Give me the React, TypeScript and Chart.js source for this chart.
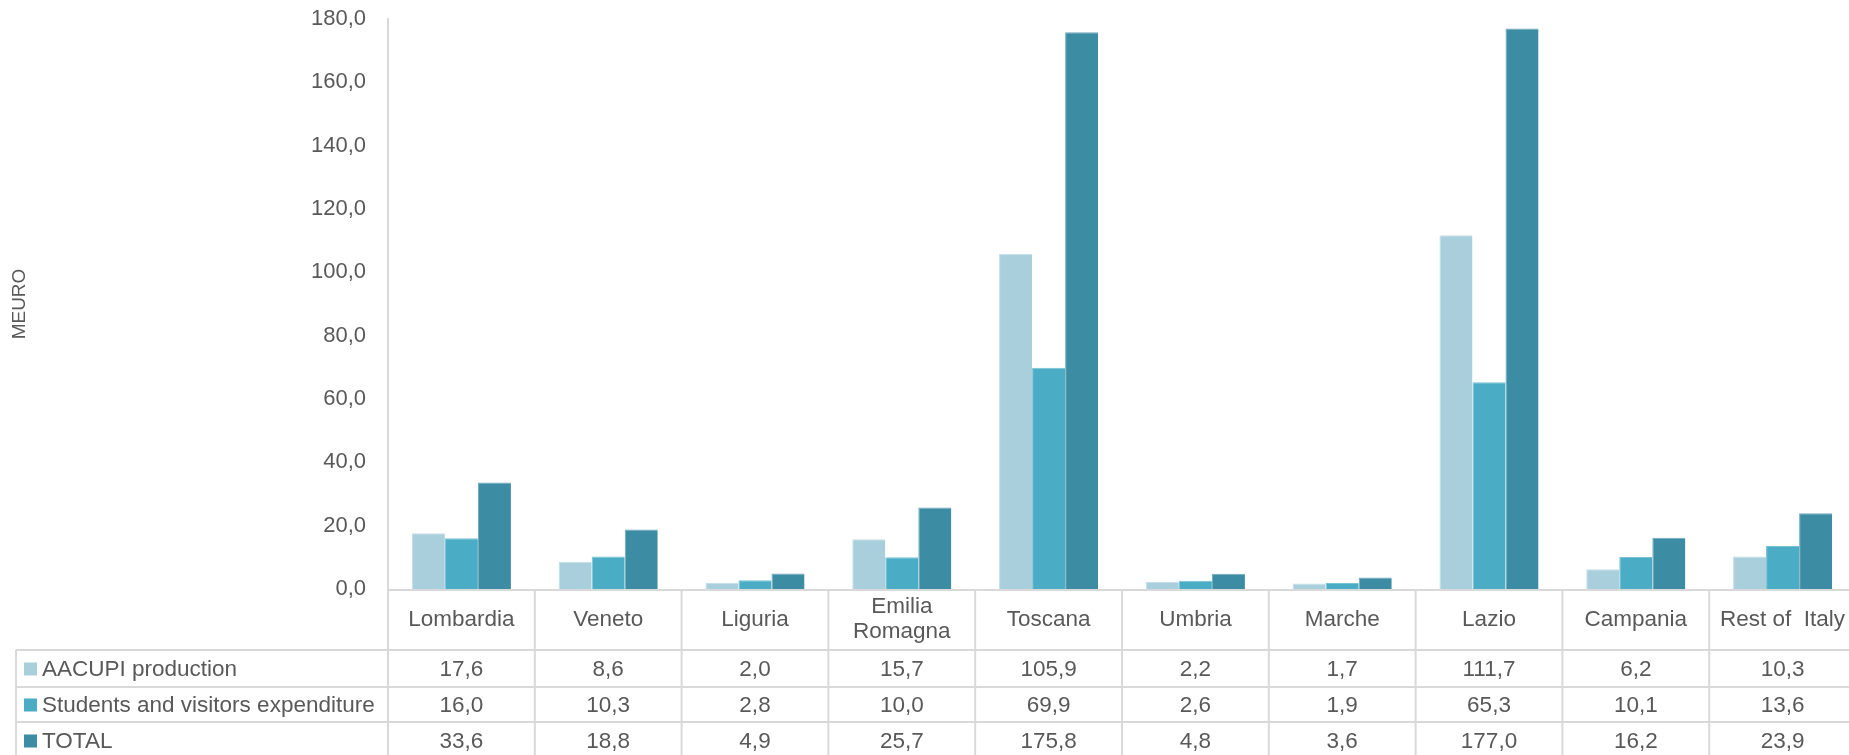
import React, { useEffect, useRef } from "react";
import { Chart, registerables } from "chart.js";

Chart.register(...registerables);

const categories: (string | string[])[] = [
  "Lombardia",
  "Veneto",
  "Liguria",
  ["Emilia", "Romagna"],
  "Toscana",
  "Umbria",
  "Marche",
  "Lazio",
  "Campania",
  "Rest of  Italy",
];

const seriesNames = ["AACUPI production", "Students and visitors expenditure", "TOTAL"];
const aacupi = [17.6, 8.6, 2.0, 15.7, 105.9, 2.2, 1.7, 111.7, 6.2, 10.3];
const students = [16.0, 10.3, 2.8, 10.0, 69.9, 2.6, 1.9, 65.3, 10.1, 13.6];
const total = [33.6, 18.8, 4.9, 25.7, 175.8, 4.8, 3.6, 177.0, 16.2, 23.9];
const colors = ["#A9CFDD", "#4BACC6", "#3C8CA3"];
const borderColors = ["#C4DEE8", "#78C1D4", "#6FA9BC"];
const yTicks = { min: 0, max: 180, step: 20 };
const yTitle = "MEURO";

const TEXT = "#595959";
const LINE = "#D9D9D9";
const FONT = "'Liberation Sans', Arial, sans-serif";

const fmt = (v: number) => v.toFixed(1).replace(".", ",");

const tablePlugin = {
  id: "dataTable",
  afterDraw(chart: any) {
    const ctx = chart.ctx as CanvasRenderingContext2D;
    const x = chart.scales.x;
    const area = chart.chartArea;
    const n = categories.length;
    const colW = (x.getPixelForValue(n - 1) - x.getPixelForValue(0)) / (n - 1);
    const left = x.getPixelForValue(0) - colW / 2;
    const right = x.getPixelForValue(n - 1) + colW / 2;
    const tableLeft = 16;
    const top = area.bottom;
    const headerBottom = top + 61;
    const rowBounds = [headerBottom, headerBottom + 37, headerBottom + 72, headerBottom + 109];
    const bottom = chart.height;

    ctx.save();
    ctx.strokeStyle = LINE;
    ctx.lineWidth = 2;
    ctx.beginPath();
    ctx.moveTo(left, top + 1);
    ctx.lineTo(right, top + 1);
    for (let i = 0; i < rowBounds.length; i++) {
      ctx.moveTo(tableLeft, rowBounds[i]);
      ctx.lineTo(right, rowBounds[i]);
    }
    ctx.moveTo(tableLeft, headerBottom);
    ctx.lineTo(tableLeft, bottom);
    for (let i = 0; i <= n; i++) {
      const xp = left + i * colW;
      ctx.moveTo(xp, top);
      ctx.lineTo(xp, bottom);
    }
    ctx.stroke();

    ctx.fillStyle = TEXT;
    ctx.font = `22.5px ${FONT}`;
    ctx.textAlign = "center";
    ctx.textBaseline = "middle";
    const headerMid = (top + headerBottom) / 2;
    for (let i = 0; i < n; i++) {
      const cx = x.getPixelForValue(i);
      const lab = categories[i];
      if (Array.isArray(lab)) {
        const lh = 25;
        lab.forEach((l, k) => {
          ctx.fillText(l, cx, headerMid + (k - (lab.length - 1) / 2) * lh);
        });
      } else {
        ctx.fillText(lab, cx, headerMid);
      }
    }

    const series = [aacupi, students, total];
    for (let r = 0; r < series.length; r++) {
      const mid = (rowBounds[r] + rowBounds[r + 1]) / 2 + 1;
      ctx.fillStyle = colors[r];
      ctx.fillRect(24, mid - 7, 13, 13);
      ctx.fillStyle = TEXT;
      ctx.textAlign = "left";
      ctx.fillText(seriesNames[r], 42, mid);
      ctx.textAlign = "center";
      for (let i = 0; i < n; i++) {
        ctx.fillText(fmt(series[r][i]), x.getPixelForValue(i), mid);
      }
    }

    ctx.save();
    ctx.translate(20, (area.top + area.bottom) / 2);
    ctx.rotate(-Math.PI / 2);
    ctx.font = `19px ${FONT}`;
    ctx.textAlign = "center";
    ctx.textBaseline = "middle";
    ctx.fillStyle = TEXT;
    ctx.fillText(yTitle, 0, 0);
    ctx.restore();

    ctx.restore();
  },
};

export default function App() {
  const ref = useRef<HTMLCanvasElement | null>(null);

  useEffect(() => {
    const canvas = ref.current;
    if (!canvas) return;
    const chart = new Chart(canvas, {
      type: "bar",
      data: {
        labels: categories as any,
        datasets: [aacupi, students, total].map((d, i) => ({
          label: seriesNames[i],
          data: d,
          backgroundColor: colors[i],
          borderColor: borderColors[i],
          borderWidth: { top: 1, left: 1, right: 0, bottom: 0 },
          borderSkipped: "bottom",
          categoryPercentage: 0.675,
          barPercentage: 1.0,
        })),
      },
      options: {
        responsive: false,
        animation: false,
        devicePixelRatio: 1,
        layout: { padding: { top: 19, left: 0, right: 4, bottom: 171 } },
        plugins: {
          legend: { display: false },
          tooltip: { enabled: false },
          title: { display: false },
        },
        scales: {
          x: {
            display: true,
            grid: { display: false, drawTicks: false },
            border: { display: false },
            ticks: { display: false },
            afterFit: (s: any) => {
              s.height = 0;
              s.paddingLeft = 0;
              s.paddingRight = 0;
            },
          },
          y: {
            min: yTicks.min,
            max: yTicks.max,
            grid: { display: false, drawTicks: false },
            border: { display: true, color: LINE, width: 2 },
            ticks: {
              stepSize: yTicks.step,
              padding: 22,
              color: TEXT,
              font: { family: FONT, size: 22 },
              callback: (v: any) => fmt(Number(v)),
            },
            afterFit: (s: any) => {
              s.width = 388;
              s.paddingTop = 0;
              s.paddingBottom = 0;
            },
          },
        },
      },
      plugins: [tablePlugin],
    });
    return () => chart.destroy();
  }, []);

  return (
    <div
      style={{
        position: "fixed",
        left: 0,
        top: 0,
        width: 1849,
        height: 755,
        overflow: "hidden",
        background: "#fff",
      }}
    >
      <canvas ref={ref} width={1860} height={760} style={{ width: 1860, height: 760, display: "block" }} />
    </div>
  );
}
